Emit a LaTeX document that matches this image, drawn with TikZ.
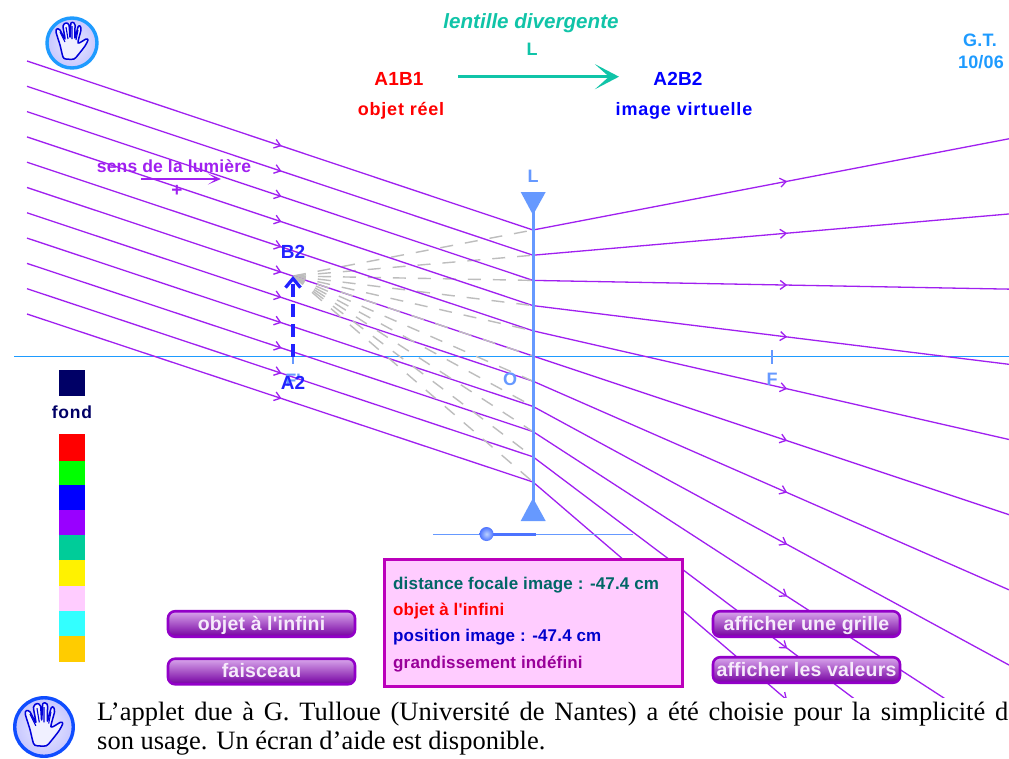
\documentclass[tikz,border=0pt]{standalone}
\usepackage{fontspec}
\setmainfont{Liberation Sans}
\newfontfamily\serifbody{Liberation Serif}
\newfontfamily\widef[LetterSpace=4.5]{Liberation Sans}
\newfontfamily\panelf[LetterSpace=1]{Liberation Sans}
\usetikzlibrary{arrows.meta,decorations.markings}
\definecolor{ray}{HTML}{A020F0}
\definecolor{lensblue}{HTML}{6699FF}
\definecolor{axisblue}{HTML}{1E9BFF}
\definecolor{teal1}{HTML}{10C4A8}
\definecolor{imgblue}{HTML}{2222FF}
\definecolor{btnedge}{HTML}{9200C8}
\definecolor{panelpink}{HTML}{FFCCFF}
\definecolor{paneledge}{HTML}{BB00BB}
\definecolor{dashgray}{HTML}{BDBDBD}
\tikzset{
  lbl/.style={inner sep=0pt,anchor=base,font=\panelf\bfseries\fontsize{#1}{#1}\selectfont},
  lbl/.default=18,
  wlbl/.style={inner sep=0pt,anchor=base,font=\widef\bfseries\fontsize{#1}{#1}\selectfont},
  plbl/.style={inner sep=0pt,anchor=base west,font=\panelf\bfseries\fontsize{17}{18}\selectfont},
  raytip/.style={decoration={markings,mark=at position #1 with {\arrow{Straight Barb[length=6pt,width=9pt]}}},postaction={decorate}},
  rayline/.style={draw=ray,line width=1.3pt},
  virt/.style={draw=dashgray,line width=1.4pt,dash pattern=on 13pt off 12pt},
  btn/.style={draw=btnedge,line width=2.6pt,rounded corners=7pt,top color=btnedge!35!white,bottom color=btnedge!80!black,minimum width=187pt,minimum height=25.5pt,inner sep=0pt,text height=12.5pt,text depth=0pt,text=white!92!btnedge,font=\panelf\bfseries\fontsize{19.5}{20}\selectfont},
  swatch/.style={fill=#1,draw=none},
}
\newcommand{\handicon}[4]{% centre x, y, scale, edge colour
  \begin{scope}[shift={(#1,#2)},x=#3pt,y=-#3pt]
    \shade[inner color=blue!8,outer color=blue!22,draw=#4,line width=3.4pt] (0,0) circle (25);
    \draw[draw=blue!85!black,line width=1.5pt,line join=round,fill=blue!6]
      plot[smooth cycle,tension=0.45] coordinates {(-9,14)(-12,2)(-16,-11)(-15,-14)(-12,-13)(-7,-4)(-9,-17)(-6,-20)(-3,-18)(-2,-6)(-1,-20)(2,-20)(3,-18)(3,-5)(6,-16)(8,-17)(9,-13)(6,0)(14,-4)(16,-3)(13,3)(6,12)(2,16)(-6,16)};
    \draw[draw=blue!85!black,line width=1.1pt] (-12,-11)--(-7,-1) (-6,-16)--(-4,-4) (0,-17)--(0,-4) (6,-13)--(4,-3);
  \end{scope}}
\begin{document}
\begin{tikzpicture}[x=1pt,y=-1pt]
\useasboundingbox (0,0) rectangle (1009,758);
\fill[white] (0,0) rectangle (1009,758);

% optical axis
\coordinate (axL) at (14,356.5);
\coordinate (axR) at (1009,356.5);
\draw[axisblue,line width=1pt] (axL) -- (axR);
\coordinate (A2pt) at (293,356.5);
\coordinate (B2pt) at (293,276);
\coordinate (Ftick1) at (293,348); \coordinate (Ftick2) at (293,364);
\coordinate (Gtick1) at (772,350); \coordinate (Gtick2) at (772,364);
\draw[lensblue,line width=1.8pt] (Ftick1) -- (Ftick2);
\draw[lensblue,line width=1.8pt] (Gtick1) -- (Gtick2);

% rays
\begin{scope}
\clip (0,0) rectangle (1009,697);
\foreach \i in {0,...,10}{
  \pgfmathsetmacro{\yin}{61+25.3*\i}
  \pgfmathsetmacro{\ylens}{230+25.2*\i}
  \pgfmathsetmacro{\yout}{276+(\ylens-276)*2.9833}
  \coordinate (in\i) at (27,\yin);
  \coordinate (lens\i) at (533,\ylens);
  \coordinate (out\i) at (1009,\yout);
  \draw[rayline,raytip=.503] (in\i) -- (lens\i);
  \draw[rayline,raytip=.534] (lens\i) -- (out\i);
  \draw[virt] (B2pt) -- (lens\i);
}
\end{scope}

% lens
\coordinate (lensT) at (533,205);
\coordinate (lensB) at (533,510);
\draw[lensblue,line width=3pt] (lensT) -- (lensB);
\fill[lensblue] (520.7,192) -- (545.7,192) -- (533,215) -- cycle;
\fill[lensblue] (520.7,521) -- (545.7,521) -- (533,498) -- cycle;
\node[lbl=18,text=lensblue] (Ltxt) at (533,182) {L};

% image arrow
\draw[imgblue,line width=3.3pt,dash pattern=on 13pt off 7pt,-{Straight Barb[length=9pt,width=15pt]}] (A2pt) -- (B2pt);

% axis labels
\node[lbl=18,text=lensblue] (Fp) at (293,386) {F'};
\node[lbl=18,text=lensblue] (Ftxt) at (772,385) {F};
\node[lbl=18,text=lensblue] (Otxt) at (510,385) {O};
\node[lbl=19,text=imgblue] (A2txt) at (293,389) {A2};
\node[lbl=19,text=imgblue] (B2txt) at (293,258) {B2};

% header
\node[inner sep=0pt,anchor=base,text=teal1,font=\bfseries\itshape\fontsize{20.6}{21}\selectfont] (title) at (531,28) {lentille divergente};
\node[lbl=18,text=teal1] (Lhead) at (532,55) {L};
\node[lbl=19,text=red] (A1B1) at (399,85) {A1B1};
\node[lbl=19,text=blue] (A2B2) at (678,85) {A2B2};
\node[wlbl=18,text=red] (objr) at (401,115) {objet réel};
\node[wlbl=18,text=blue] (imgv) at (684,115) {image virtuelle};
\coordinate (hA) at (458,76.7); \coordinate (hB) at (619,76.7);
\draw[teal1,line width=3pt,-{Stealth[length=24pt,width=25pt,inset=14pt]}] (hA) -- (hB);
\node[lbl=18,text=axisblue] (GT) at (980,46) {G.T.};
\node[lbl=18,text=axisblue] (date) at (981,68) {10/06};

% light direction
\node[lbl=17.5,text=ray] (sens) at (174,172) {sens de la lumière};
\coordinate (sA) at (141,179); \coordinate (sB) at (221,179);
\draw[ray,line width=1.5pt,-{Stealth[length=13pt,width=11pt,inset=8pt]}] (sA) -- (sB);
\node[lbl=19,text=ray] (plus) at (177,196) {+};

% slider
\coordinate (sl1) at (433,534); \coordinate (sl2) at (633,534);
\coordinate (knob) at (486.5,534); \coordinate (sl3) at (536,534);
\draw[lensblue,line width=1pt] (sl1) -- (sl2);
\draw[blue!25!lensblue,line width=3pt] (knob) -- (sl3);
\shade[inner color=lensblue!45,outer color=blue!25!lensblue] (knob) circle (7);

% palette
\definecolor{navy1}{RGB}{0,0,102}
\fill[swatch=navy1] (59,370) rectangle (85,396);
\node[wlbl=17.5,text=navy1] (fond) at (72,418) {fond};
\definecolor{c1}{RGB}{0,255,0}\definecolor{c2}{RGB}{153,0,255}\definecolor{c3}{RGB}{0,204,153}\definecolor{c4}{RGB}{51,255,255}\definecolor{c5}{RGB}{255,204,0}
\fill[swatch=red] (59,434) rectangle (85,461);
\fill[swatch=c1] (59,461) rectangle (85,485);
\fill[swatch=blue] (59,485) rectangle (85,510);
\fill[swatch=c2] (59,510) rectangle (85,535);
\fill[swatch=c3] (59,535) rectangle (85,560);
\fill[swatch=yellow] (59,560) rectangle (85,586);
\fill[swatch=panelpink] (59,586) rectangle (85,611);
\fill[swatch=c4] (59,611) rectangle (85,636);
\fill[swatch=c5] (59,636) rectangle (85,662);

% panel
\definecolor{t1}{RGB}{0,102,102}\definecolor{t3}{RGB}{0,0,204}\definecolor{t4}{RGB}{153,0,153}
\node[draw=paneledge,fill=panelpink,line width=3pt,minimum width=298pt,minimum height=127pt,inner sep=0pt] (panel) at (533,622.5) {};
\node[plbl,text=t1] (p1) at (393,589) {distance focale image : -47.4 cm};
\node[plbl,text=red] (p2) at (393,615) {objet à l'infini};
\node[plbl,text=t3] (p3) at (393,641.5) {position image : -47.4 cm};
\node[plbl,text=t4] (p4) at (393,668) {grandissement indéfini};

% buttons
\node[btn] (b1) at (261.5,624) {objet à l'infini};
\node[btn] (b2) at (261.5,671.5) {faisceau};
\node[btn] (b3) at (806.5,624) {afficher une grille};
\node[btn] (b4) at (806.5,670) {afficher les valeurs};

% hand icons
\handicon{72}{43}{1}{axisblue}
\handicon{44}{727}{1.17}{blue!50!axisblue}

% caption
\node[inner sep=0pt,anchor=base west,font=\serifbody\fontsize{26.5}{27}\selectfont] (cap1) at (97,720.5) {\makebox[911pt][s]{L’applet due à G. Tulloue (Université de Nantes) a été choisie pour la simplicité d}};
\node[inner sep=0pt,anchor=base west,font=\serifbody\fontsize{26.5}{27}\selectfont] (cap2) at (97,749.5) {son usage. Un écran d’aide est disponible.};
\end{tikzpicture}
\end{document}
